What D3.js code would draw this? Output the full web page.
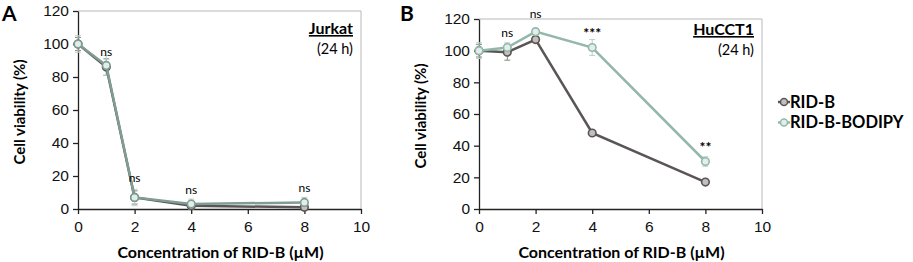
<!DOCTYPE html>
<html>
<head>
<meta charset="utf-8">
<script src="https://cdn.jsdelivr.net/npm/d3@7"></script>
<style>
  body { margin: 0; background: #fff; }
  svg { font-family: Lato, "Open Sans", sans-serif; }
</style>
</head>
<body>
<svg id="chart" width="913" height="262"></svg>
<script>
// concentrations (uM)
var conc = [0, 1, 2, 4, 8];
var xTicks = [0, 2, 4, 6, 8, 10];
var yTicks = [0, 20, 40, 60, 80, 100, 120];

// panel A - Jurkat
var jurkatRidB = [100, 86, 7, 2, 1];
var jurkatRidBErr = [4, 5, 4, 2, 1];
var jurkatBodipy = [100, 87, 7, 3, 4];
var jurkatBodipyErr = [5, 6, 5, 3, 3];
var jurkatSig = ["", "ns", "ns", "ns", "ns"];
var jurkatSigY = [0, 95, 19, 11.5, 13];

// panel B - HuCCT1
var huRidB = [100, 99, 107, 48, 17];
var huRidBErr = [4, 5, 2, 1, 1.5];
var huBodipy = [100, 102, 112, 102, 30];
var huBodipyErr = [5, 3, 2, 5, 3];
var huSig = ["", "ns", "ns", "***", "**"];
var huSigY = [0, 111, 123, 111, 39];

var seriesNames = ["RID-B", "RID-B-BODIPY"];
var colors = ["#5b5656", "#93b8ab"];
var fills = ["#c4bfbf", "#e3eeea"];

const svg = d3.select("#chart");

function drawPanel(opts) {
    const g = svg.append("g");
    var xScale = d3.scaleLinear().domain([0, 10]).range([opts.left, opts.right]);
    var yScale = d3.scaleLinear().domain([0, 120]).range([opts.bottom, opts.top]);

    // frame top / right
    g.append("path")
        .attr("d", `M${opts.left},${opts.top}H${opts.right}V${opts.bottom}`)
        .attr("fill", "none")
        .attr("stroke", "#b8b8b8")
        .attr("stroke-width", 1);

    var xAxis = d3.axisBottom(xScale).tickValues(xTicks).tickSize(5).tickSizeOuter(0);
    var yAxis = d3.axisLeft(yScale).tickValues(yTicks).tickSize(5).tickSizeOuter(0);

    g.append("g")
        .attr("transform", `translate(0, ${opts.bottom})`)
        .call(xAxis)
        .call(s => s.selectAll("text").attr("y", 10).attr("dy", "0.85em").style("font-size", "15.5px").attr("fill", "#111"));
    g.append("g")
        .attr("transform", `translate(${opts.left}, 0)`)
        .call(yAxis)
        .call(s => s.selectAll("text").attr("x", -9).style("font-size", "15.5px").attr("fill", "#111"));
    g.selectAll(".domain, .tick line").attr("stroke", "#222").attr("stroke-width", 1.3);

    // axis titles
    g.append("text")
        .attr("x", (opts.left + opts.right) / 2 + 1)
        .attr("y", 258)
        .attr("text-anchor", "middle")
        .style("font-size", "16px")
        .style("font-weight", "bold")
        .text("Concentration of RID-B (\u00b5M)");
    g.append("text")
        .attr("transform", `translate(${opts.left - 53}, ${(opts.top + opts.bottom) / 2 + 2}) rotate(-90)`)
        .attr("text-anchor", "middle")
        .style("font-size", "15px")
        .style("font-weight", "bold")
        .text("Cell viability (%)");

    // panel letter
    g.append("text")
        .attr("x", opts.letterX)
        .attr("y", 21)
        .style("font-size", "21px")
        .style("font-weight", "bold")
        .text(opts.letter);

    // cell line label
    g.append("text")
        .attr("x", opts.right - 8)
        .attr("y", opts.labelY)
        .attr("text-anchor", "end")
        .style("font-size", "16px")
        .style("font-weight", "bold")
        .attr("text-decoration", "underline")
        .text(opts.cellLine);
    g.append("text")
        .attr("x", opts.right - 8)
        .attr("y", opts.labelY + 20)
        .attr("text-anchor", "end")
        .style("font-size", "14.5px")
        .text("(24 h)");

    var line = d3.line().x((d, i) => xScale(conc[i])).y(d => yScale(d));

    opts.series.forEach(function(s, k) {
        // error bars
        var eb = g.append("g").attr("stroke", k === 0 ? "#8a8585" : "#b9d1c9").attr("stroke-width", 1);
        s.values.forEach(function(v, i) {
            var x = xScale(conc[i]);
            eb.append("line").attr("x1", x).attr("x2", x)
                .attr("y1", yScale(v - s.err[i])).attr("y2", yScale(v + s.err[i]));
            eb.append("line").attr("x1", x - 3).attr("x2", x + 3)
                .attr("y1", yScale(v + s.err[i])).attr("y2", yScale(v + s.err[i]));
            eb.append("line").attr("x1", x - 3).attr("x2", x + 3)
                .attr("y1", yScale(v - s.err[i])).attr("y2", yScale(v - s.err[i]));
        });
    });

    opts.series.forEach(function(s, k) {
        var c = opts.lineColors ? opts.lineColors[k] : colors[k];
        g.append("path")
            .datum(s.values)
            .attr("d", line)
            .attr("fill", "none")
            .attr("stroke", c)
            .attr("stroke-width", 2.5);
        g.selectAll(".pt" + k)
            .data(s.values)
            .enter()
            .append("circle")
            .attr("cx", (d, i) => xScale(conc[i]))
            .attr("cy", d => yScale(d))
            .attr("r", 3.8)
            .attr("fill", fills[k])
            .attr("stroke", c)
            .attr("stroke-width", 1.6);
    });

    // significance marks
    opts.sig.forEach(function(t, i) {
        if (!t) return;
        g.append("text")
            .attr("x", xScale(conc[i]))
            .attr("y", yScale(opts.sigY[i]))
            .attr("text-anchor", "middle")
            .attr("dy", "0.35em")
            .style("font-size", t === "ns" ? "12px" : "14px")
            .style("font-weight", t === "ns" ? "normal" : "bold")
            .text(t);
    });
}

drawPanel({
    left: 78, right: 361, top: 11, bottom: 209,
    letter: "A", letterX: 2, cellLine: "Jurkat", labelY: 34,
    series: [
        { values: jurkatRidB, err: jurkatRidBErr },
        { values: jurkatBodipy, err: jurkatBodipyErr }
    ],
    lineColors: ["#5b5656", "#7f9d92"],
    sig: jurkatSig, sigY: jurkatSigY
});

drawPanel({
    left: 479, right: 762, top: 19, bottom: 209,
    letter: "B", letterX: 400, cellLine: "HuCCT1", labelY: 35,
    series: [
        { values: huRidB, err: huRidBErr },
        { values: huBodipy, err: huBodipyErr }
    ],
    sig: huSig, sigY: huSigY
});

// legend
var legend = svg.append("g").attr("transform", "translate(778, 102)");
seriesNames.forEach(function(name, k) {
    var row = legend.append("g").attr("transform", `translate(0, ${k * 20.5})`);
    row.append("line").attr("x1", 0).attr("x2", 12).attr("y1", 0).attr("y2", 0)
        .attr("stroke", colors[k]).attr("stroke-width", 2.5);
    row.append("circle").attr("cx", 6).attr("cy", 0).attr("r", 3.5)
        .attr("fill", fills[k])
        .attr("stroke", colors[k]).attr("stroke-width", 1.5);
    row.append("text").attr("x", 12).attr("y", 0).attr("dy", "0.35em")
        .style("font-size", "16.5px").style("font-weight", "bold")
        .text(name);
});
</script>
</body>
</html>
